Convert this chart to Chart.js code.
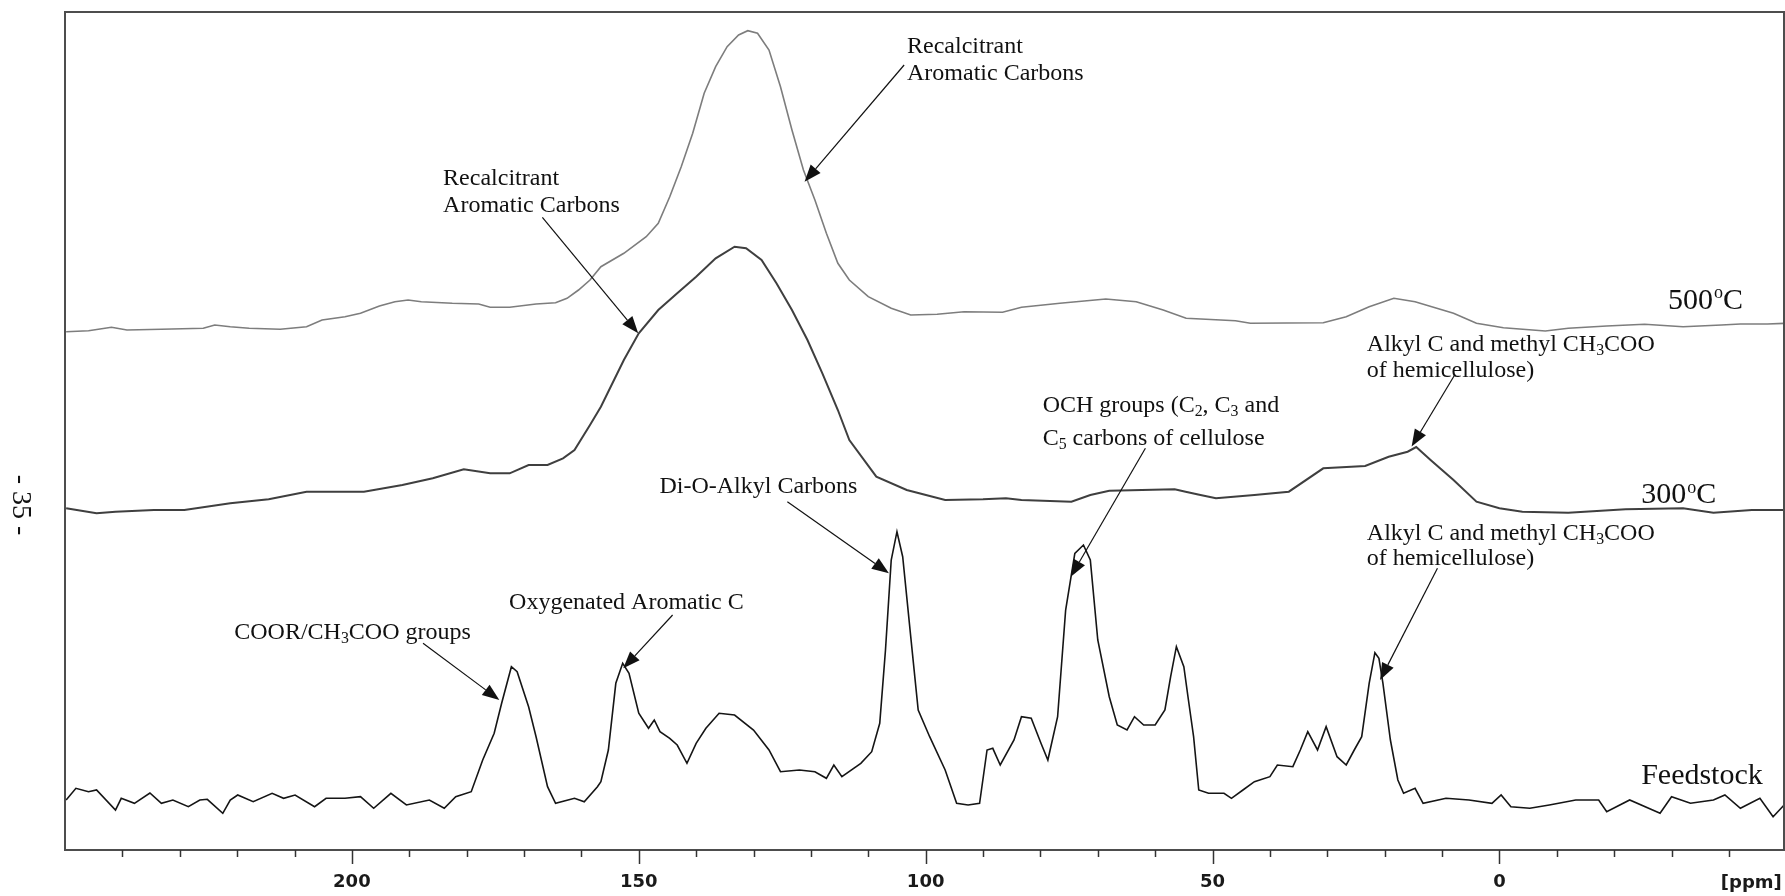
<!DOCTYPE html>
<html>
<head>
<meta charset="utf-8">
<style>
  html, body { margin: 0; padding: 0; background: #ffffff; }
  #wrap { width: 1785px; height: 896px; position: relative; }
</style>
<script src="https://cdn.jsdelivr.net/npm/chart.js@4.4.1/dist/chart.umd.min.js"></script>
</head>
<body>
<div id="wrap"><canvas id="nmr" width="1785" height="896"></canvas></div>
<script>
// 13C CP/MAS NMR spectra: chemical shift (ppm) and relative intensity for each trace
const ppm500 = [249.8,245.9,241.9,239.2,233.2,225.9,223.9,221.2,217.9,212.5,207.9,205.2,201.2,198.5,195.2,192.5,190.2,187.9,182.5,177.9,175.9,172.5,167.9,164.5,162.5,160.5,158.5,156.6,152.6,148.7,146.6,144.6,142.6,140.6,138.6,136.6,134.6,132.6,131.0,129.3,127.3,125.3,123.3,121.3,119.3,117.3,115.3,113.3,110.0,106.0,102.6,98.0,93.3,86.6,83.3,76.6,68.6,63.3,58.6,54.6,46.0,43.4,30.7,26.7,22.7,18.4,14.7,8.0,4.0,-0.7,-8.0,-12.0,-18.7,-25.3,-32.0,-38.7,-42.0,-46.7,-49.9];
const int500 = [0.3,1.3,4.7,2,2.7,3.7,7,5.3,3.7,2.7,5.3,12,15.3,18.7,26,30.3,32,30.3,28.7,28,24.7,24.7,28,29.3,33.7,42,52,65.3,78.7,95.3,108.7,135.3,165.3,198.7,238.7,265.3,285.3,297,301.3,298.7,282,245.3,202,162,132,98.7,68.7,52,35.3,23.7,17,17.7,20.3,19.7,24.7,28.7,33,30.3,22,13.7,11.3,8.7,9.3,15.3,25.3,33.7,30.3,18.7,8.7,4.3,1,3.7,6,7.7,5.3,7,8,8,8.7];

const ppm300 = [249.8,244.5,241.2,234.5,229.2,221.2,214.5,207.9,197.9,191.2,185.9,180.5,175.9,172.5,169.2,165.9,163.2,161.2,158.5,156.6,152.6,150.0,146.6,143.3,140.0,136.6,133.3,131.3,128.6,126.0,123.3,120.6,118.0,115.3,113.3,108.6,103.3,96.6,90.0,86.0,83.3,74.6,71.3,68.0,56.6,54.7,52.1,49.4,42.7,36.7,30.7,23.4,19.3,16.0,14.5,12.0,8.0,4.0,0,-4.0,-12.0,-22.0,-32.0,-37.3,-44.0,-49.9];
const int300 = [1.7,-3.3,-1.7,0,0,6.7,10.7,18.3,18.3,25,31.7,40.7,36.7,36.7,45,45,51.7,60,85,103.3,150,176.7,200,216.7,233.3,251.7,263.3,261.7,250,226.7,200,170,136.7,100,70,33.3,20,10,10.7,11.7,10,8.3,15,19.3,20.7,18.3,15,11.7,15,18.3,41.7,44,53.3,58.3,63,50,30,8.3,1.7,-1.7,-2.7,0.7,1.7,-2.7,0,0];

const ppmFeed = [249.8,248.1,245.9,244.5,241.2,240.2,237.9,235.2,233.2,231.2,228.5,226.5,225.2,222.5,221.2,219.9,217.2,213.9,211.9,209.9,206.5,204.5,201.2,198.5,196.2,193.2,190.5,186.5,183.9,181.9,179.2,177.2,175.2,173.9,172.2,171.2,169.2,167.9,165.9,164.5,161.2,159.5,157.2,156.6,155.3,154.0,152.8,151.7,150.0,148.3,147.3,146.3,144.6,143.3,141.6,140.0,138.3,136.0,133.3,130.0,127.3,125.3,122.0,119.3,117.3,116.0,114.6,111.3,109.4,108.0,107.0,106.0,105.0,104.0,102.6,101.3,99.3,96.6,94.6,92.6,90.6,89.3,88.3,87.0,84.6,83.3,81.6,79.9,78.7,77.0,75.6,74.0,72.5,71.3,70.0,68.0,66.6,64.9,63.6,62.0,60.0,58.3,57.3,56.3,55.0,54.2,53.3,52.4,50.7,48.0,46.7,44.7,42.7,40.0,38.7,36.0,34.7,33.4,31.7,30.2,28.3,26.7,25.3,24.0,22.7,21.7,21.0,20.3,19.0,17.7,16.7,14.7,13.3,9.3,5.3,1.3,-0.3,-2.0,-5.3,-8.7,-13.3,-17.3,-18.7,-22.7,-28.0,-30.0,-33.3,-37.3,-39.3,-42.0,-45.4,-47.7,-49.9];
const intFeed = [0,11.7,8.3,10,-10,1.7,-3.3,7,-3.3,0,-6.7,0,0.7,-13.3,0,5,-1.7,6.7,1.7,5,-6.7,1.7,1.7,3.3,-8.3,6.7,-5,0,-8.3,3.3,8.3,40,66.7,96.7,133.3,128.3,93.3,63.3,13.3,-3.3,1.7,-1.7,13.3,18.3,50,116.7,136.7,126.7,86.7,71.7,80,68.3,61.7,55,36.7,56.7,71.7,86.7,85,70,50,28.3,30,28.3,21.7,35,23.3,36.7,48.3,76.7,150,240,268.3,243.3,163.3,90,63.3,30,-3.3,-5,-3.3,50,51.7,35,60,83.3,81.7,56.7,40,83.3,190,246.7,255,240,160,103.3,75,70,83.3,75,75,90,123.3,153.3,133.3,100,63.3,10,6.7,6.7,1.7,10,18.3,23.3,35,33.3,50,68.3,50,73.3,43.3,35,50,63.3,116.7,147.3,141.7,116.7,60,20,6.7,11.7,-3.3,1.7,0,-3.3,5,-6.7,-8.3,-5,0,0,-11.7,0,-13.3,3.3,-3.3,0,5,-8.3,1.7,-16.7,-3.3];

// Axis ticks (ppm) and the unit shown at the right end of the axis
const tickValues = [-40,-30,-20,-10,0,10,20,30,40,50,60,70,80,90,100,110,120,130,140,150,160,170,180,190,200,210,220,230,240];
const unitPosition = -43.9;
const unitLabel = '[ppm]';
const tickFont = { family: '"DejaVu Sans", sans-serif', size: 18, weight: 'bold' };

// Trace names, vertical stacking of the three spectra and their line styles
const traceNames = ['500ºC', '300ºC', 'Feedstock'];
const traceOffsets = [518, 340, 50];
const traceColors = ['#7d7d7d', '#3f3f3f', '#151515'];
const traceWidths = [1.6, 2.0, 1.6];

function toPoints(xs, ys, off) {
  return xs.map((x, i) => ({ x: x, y: ys[i] + off }));
}

// Peak assignments: text lines anchored in data coordinates (ppm, stacked intensity)
const labelFont = '"Liberation Serif", "Times New Roman", serif';
const notes = [
  { ppm: 103.25, y: 797, size: 24, gap: 27, lines: ['Recalcitrant', 'Aromatic Carbons'] },
  { ppm: 184.1, y: 665, size: 24, gap: 27, lines: ['Recalcitrant', 'Aromatic Carbons'] },
  { ppm: 23.1, y: 499.3, size: 24, gap: 26, lines: ['Alkyl C and methyl CH_3COO', 'of hemicellulose)'] },
  { ppm: 79.6, y: 437.7, size: 24, gap: 33, lines: ['OCH groups (C_2, C_3 and', 'C_5 carbons of cellulose'] },
  { ppm: 146.4, y: 357.3, size: 24, gap: 27, lines: ['Di-O-Alkyl Carbons'] },
  { ppm: 23.1, y: 310, size: 24, gap: 25, lines: ['Alkyl C and methyl CH_3COO', 'of hemicellulose)'] },
  { ppm: 172.6, y: 240.7, size: 24, gap: 27, lines: ['Oxygenated Aromatic C'] },
  { ppm: 220.5, y: 210.7, size: 24, gap: 27, lines: ['COOR/CH_3COO groups'] },
  { ppm: -29.4, y: 541, size: 30, gap: 0, lines: ['500^oC'] },
  { ppm: -24.7, y: 346.7, size: 30, gap: 0, lines: ['300^oC'] },
  { ppm: -24.7, y: 65.7, size: 30, gap: 0, lines: ['Feedstock'] }
];

// Arrows: [fromPpm, fromY, tipPpm, tipY]
const arrows = [
  [103.75, 785, 121.1, 668.3],
  [166.8, 632.7, 150.1, 516.7],
  [7.8, 475, 15.3, 403.5],
  [61.7, 401.7, 74.7, 273.3],
  [124.1, 348.3, 106.4, 276.7],
  [10.8, 281.7, 20.8, 170],
  [144.1, 235, 152.7, 181.7],
  [187.6, 206.7, 174.3, 150]
];

function drawRich(ctx, str, x, y, size) {
  const parts = str.split(/(_\d|\^o)/);
  let cx = x;
  for (const p of parts) {
    if (!p) continue;
    if (p[0] === '_') {
      ctx.font = (size * 0.66) + 'px ' + labelFont;
      ctx.fillText(p[1], cx, y + size * 0.16);
      cx += ctx.measureText(p[1]).width;
    } else if (p === '^o') {
      ctx.font = (size * 0.6) + 'px ' + labelFont;
      ctx.fillText('o', cx + 1, y - size * 0.36);
      cx += ctx.measureText('o').width + 1;
    } else {
      ctx.font = size + 'px ' + labelFont;
      ctx.fillText(p, cx, y);
      cx += ctx.measureText(p).width;
    }
  }
}

function drawArrow(ctx, x1, y1, x2, y2) {
  const ang = Math.atan2(y2 - y1, x2 - x1);
  const hl = 17, hw = 6.5;
  const bx = x2 - hl * Math.cos(ang), by = y2 - hl * Math.sin(ang);
  ctx.beginPath();
  ctx.moveTo(x1, y1);
  ctx.lineTo(bx, by);
  ctx.lineWidth = 1.2;
  ctx.strokeStyle = '#111';
  ctx.stroke();
  ctx.beginPath();
  ctx.moveTo(x2, y2);
  ctx.lineTo(bx + hw * Math.sin(ang), by - hw * Math.cos(ang));
  ctx.lineTo(bx - hw * Math.sin(ang), by + hw * Math.cos(ang));
  ctx.closePath();
  ctx.fillStyle = '#111';
  ctx.fill();
}

const decorations = {
  id: 'decorations',
  afterDraw(chart) {
    const ctx = chart.ctx;
    const a = chart.chartArea;
    const xs = chart.scales.x, ys = chart.scales.y;
    ctx.save();
    // frame
    ctx.strokeStyle = '#4d4d4d';
    ctx.lineWidth = 2;
    ctx.strokeRect(a.left, a.top, a.right - a.left, a.bottom - a.top);
    // tick marks below the axis line
    ctx.lineWidth = 1.5;
    ctx.strokeStyle = '#333';
    for (const v of tickValues) {
      const px = Math.round(xs.getPixelForValue(v)) + 0.5;
      const len = v % 50 === 0 ? 14 : 7;
      ctx.beginPath();
      ctx.moveTo(px, a.bottom);
      ctx.lineTo(px, a.bottom + len);
      ctx.stroke();
    }
    // axis unit
    ctx.font = 'bold ' + tickFont.size + 'px ' + tickFont.family;
    ctx.fillStyle = '#1a1a1a';
    ctx.textAlign = 'center';
    ctx.textBaseline = 'alphabetic';
    ctx.fillText(unitLabel, xs.getPixelForValue(unitPosition), a.bottom + 38);
    // annotations
    ctx.fillStyle = '#111';
    ctx.textAlign = 'left';
    for (const n of notes) {
      const x = xs.getPixelForValue(n.ppm);
      const y0 = ys.getPixelForValue(n.y);
      n.lines.forEach((ln, i) => drawRich(ctx, ln, x, y0 + i * n.gap, n.size));
    }
    for (const ar of arrows) {
      drawArrow(ctx, xs.getPixelForValue(ar[0]), ys.getPixelForValue(ar[1]),
                xs.getPixelForValue(ar[2]), ys.getPixelForValue(ar[3]));
    }
    // page number in the margin
    ctx.translate(20, 505);
    ctx.rotate(Math.PI / 2);
    ctx.textAlign = 'center';
    ctx.textBaseline = 'middle';
    ctx.font = '28px ' + labelFont;
    ctx.fillStyle = '#111';
    ctx.fillText('- 35 -', 0, 0);
    ctx.restore();
  }
};

const series = [
  toPoints(ppm500, int500, traceOffsets[0]),
  toPoints(ppm300, int300, traceOffsets[1]),
  toPoints(ppmFeed, intFeed, traceOffsets[2])
];

new Chart(document.getElementById('nmr'), {
  type: 'line',
  data: {
    datasets: series.map((pts, i) => ({
      label: traceNames[i],
      data: pts,
      borderColor: traceColors[i],
      borderWidth: traceWidths[i],
      pointRadius: 0,
      tension: 0,
      fill: false
    }))
  },
  options: {
    responsive: false,
    animation: false,
    devicePixelRatio: 1,
    layout: { padding: { left: 65, top: 12, right: 1, bottom: 0 } },
    plugins: { legend: { display: false }, tooltip: { enabled: false } },
    scales: {
      x: {
        type: 'linear',
        reverse: true,
        min: -49.6,
        max: 250,
        grid: { display: false, drawTicks: false },
        border: { display: false },
        afterBuildTicks(scale) {
          scale.ticks = tickValues.map(v => ({ value: v }));
        },
        afterFit(scale) {
          scale.height = 46;
          scale.paddingLeft = 0;
          scale.paddingRight = 0;
        },
        ticks: {
          autoSkip: false,
          maxRotation: 0,
          minRotation: 0,
          padding: 22,
          color: '#1a1a1a',
          font: tickFont,
          callback(v) { return v % 50 === 0 ? String(v) : ''; }
        }
      },
      y: {
        type: 'linear',
        display: false,
        min: 0,
        max: 838
      }
    }
  },
  plugins: [decorations]
});
</script>
</body>
</html>
